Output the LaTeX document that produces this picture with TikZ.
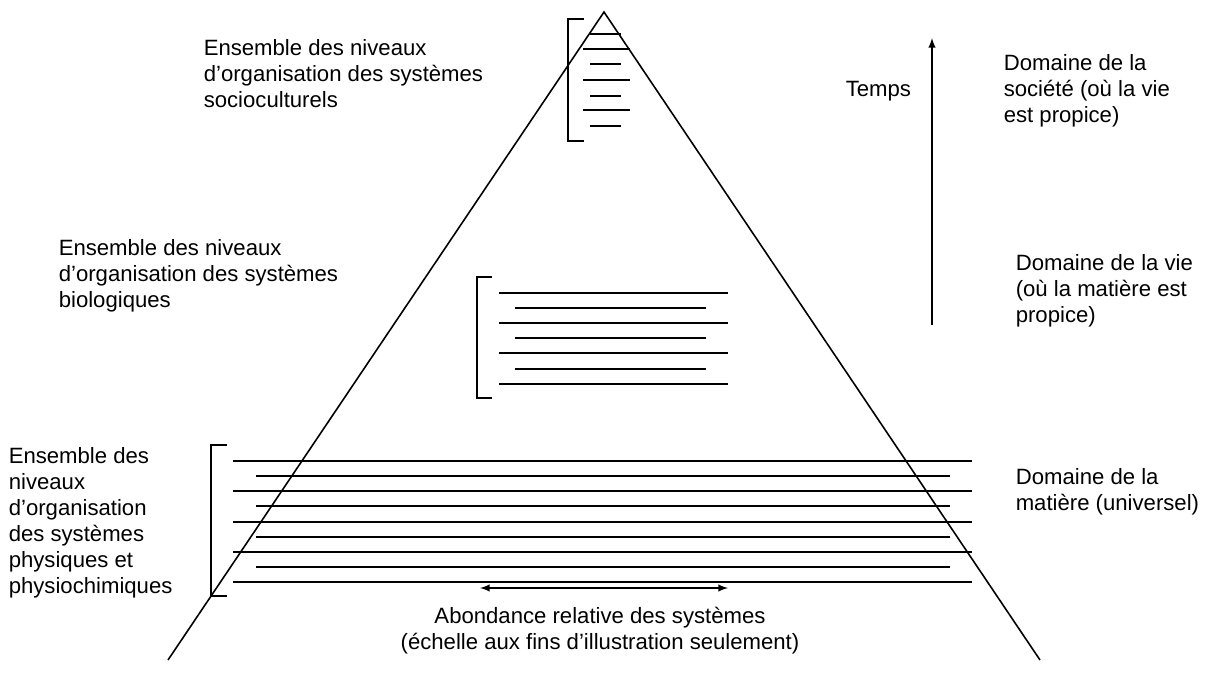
\documentclass[tikz,border=0pt]{standalone}
\usepackage{fontspec}
\setmainfont{Liberation Sans}

\begin{document}
\begin{tikzpicture}[x=0.02cm, y=-0.02cm, line width=0.9pt,
  txt/.style={anchor=north west, inner sep=0pt, align=left, font=\fontsize{12.6}{14.8}\selectfont}]
  \useasboundingbox (0, 0) rectangle (1211, 681);
	%Pyramid
	\draw (168, 660) -- (604, 12) -- (1040, 660);
	%Sociocultural levels
	\draw (584, 19) -- (568, 19) -- (568, 141) -- (584, 141);
	\draw (590, 34) -- (621, 34);
	\draw (583, 49) -- (630, 49);
	\draw (590, 64) -- (621, 64);
	\draw (583, 80) -- (630, 80);
	\draw (590, 96) -- (621, 96);
	\draw (583, 110) -- (630, 110);
	\draw (590, 126) -- (621, 126);
	\node [txt] (socio) at (203, 39) {Ensemble des niveaux\\d’organisation des systèmes\\socioculturels};
	%Biological levels
	\draw (492, 277) -- (477, 277) -- (477, 398) -- (492, 398);
	\draw (499, 293) -- (728, 293);
	\draw (515, 308) -- (706, 308);
	\draw (499, 323) -- (728, 323);
	\draw (515, 338) -- (706, 338);
	\draw (499, 353) -- (728, 353);
	\draw (515, 369) -- (706, 369);
	\draw (499, 384) -- (728, 384);
	\node [txt] (bio) at (58, 239) {Ensemble des niveaux\\d’organisation des systèmes\\biologiques};
	%Physical levels
	\draw (227, 445) -- (211, 445) -- (211, 596) -- (227, 596);
	\draw (233, 461) -- (972, 461);
	\draw (256, 476) -- (950, 476);
	\draw (233, 491) -- (972, 491);
	\draw (256, 506) -- (950, 506);
	\draw (233, 522) -- (972, 522);
	\draw (256, 537) -- (950, 537);
	\draw (233, 552) -- (972, 552);
	\draw (256, 567) -- (950, 567);
	\draw (233, 582) -- (972, 582);
	\node [txt] (phys) at (8, 447) {Ensemble des\\niveaux\\d’organisation\\des systèmes\\physiques et\\physiochimiques};
	%Time
	\coordinate (tlow) at (932, 325);
	\coordinate (thigh) at (932, 38);
	\draw [-latex] (tlow) -- (thigh);
	\node [txt] (temps) at (845, 80) {Temps};
	%Domains
	\node [txt] (societe) at (1003, 54) {Domaine de la\\société (où la vie\\est propice)};
	\node [txt] (vie) at (1015, 254) {Domaine de la vie\\(où la matière est\\propice)};
	\node [txt] (matiere) at (1015, 468) {Domaine de la\\matière (universel)};
	%Abundance
	\coordinate (aleft) at (480, 588);
	\coordinate (aright) at (728, 588);
	\draw [latex-latex] (aleft) -- (aright);
	\node [txt, anchor=north, align=center] (abondance) at (600, 606) {Abondance relative des systèmes\\(échelle aux fins d’illustration seulement)};
\end{tikzpicture}
\end{document}
